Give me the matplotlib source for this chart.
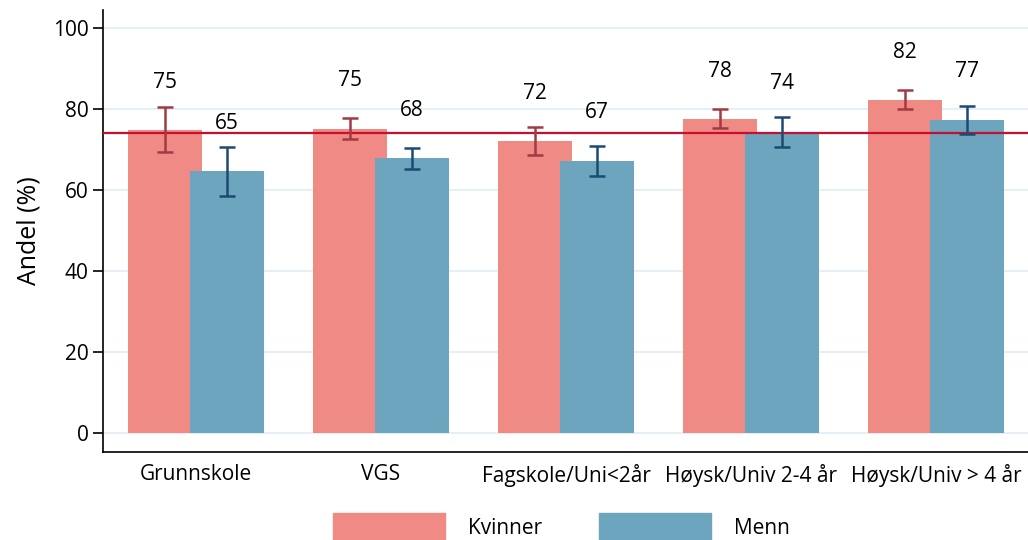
import numpy as np
import matplotlib.pyplot as plt
from matplotlib.patches import Patch

plt.rcParams['font.family'] = ['Open Sans', 'DejaVu Sans']

categories = ['Grunnskole', 'VGS', 'Fagskole/Uni<2år', 'Høysk/Univ 2-4 år', 'Høysk/Univ > 4 år']
kvinner = [74.8, 75.1, 72.1, 77.5, 82.2]
kvinner_lo = [69.3, 72.5, 68.6, 75.3, 79.9]
kvinner_hi = [80.4, 77.8, 75.6, 80.0, 84.6]
menn = [64.6, 67.9, 67.2, 74.4, 77.3]
menn_lo = [58.6, 65.2, 63.5, 70.6, 73.8]
menn_hi = [70.7, 70.4, 70.9, 78.0, 80.7]
snitt = 74.1

c_kv, c_kv_err = '#f08a84', '#a13a45'
c_me, c_me_err = '#6ca5bd', '#1d4a72'

x = np.arange(len(categories))
w = 0.4
off = 0.1665

fig = plt.figure(figsize=(10.28, 5.4), dpi=100)
ax = fig.add_axes([0.1002, 0.163, 0.8998, 0.8185])

for v in range(0, 101, 20):
    ax.axhline(v, color='#e6eff3', lw=1.5, zorder=0)

ax.bar(x - off, kvinner, w, color=c_kv, zorder=2)
ax.bar(x + off, menn, w, color=c_me, zorder=3)

kv = np.array(kvinner)
me = np.array(menn)
ax.errorbar(x - off, kv, yerr=[kv - kvinner_lo, np.array(kvinner_hi) - kv],
            fmt='none', ecolor=c_kv_err, elinewidth=1.8, capsize=5.5, capthick=1.8, zorder=4)
ax.errorbar(x + off, me, yerr=[me - menn_lo, np.array(menn_hi) - me],
            fmt='none', ecolor=c_me_err, elinewidth=1.8, capsize=5.5, capthick=1.8, zorder=4)

ax.axhline(snitt, color='#c8102e', lw=1.6, zorder=3.5)

for xi, v in zip(x - off, kvinner):
    ax.text(xi, v + 11.8, f'{v:.0f}', ha='center', va='center', fontsize=15)
for xi, v in zip(x + off, menn):
    ax.text(xi, v + 11.8, f'{v:.0f}', ha='center', va='center', fontsize=15)

ax.set_xlim(-0.503, 4.497)
ax.set_ylim(-4.7, 104.4)
ax.set_yticks(range(0, 101, 20))
ax.set_xticks(x)
ax.set_xticklabels(categories)
ax.tick_params(axis='y', labelsize=15, length=7, width=1.2)
ax.tick_params(axis='x', labelsize=15, length=0, pad=9)
ax.set_ylabel('Andel (%)', fontsize=18, labelpad=8)
for s in ['top', 'right']:
    ax.spines[s].set_visible(False)
for s in ['left', 'bottom']:
    ax.spines[s].set_linewidth(1.2)

handles = [Patch(color=c_kv, label='Kvinner'), Patch(color=c_me, label='Menn')]
fig.legend(handles=handles, loc='upper center', bbox_to_anchor=(0.546, 0.05),
           ncol=2, frameon=False, fontsize=15, handlelength=5.4, handleheight=1.7,
           handletextpad=1.1, columnspacing=2.7, borderaxespad=0, borderpad=0)

fig.savefig('out.png', dpi=100)
